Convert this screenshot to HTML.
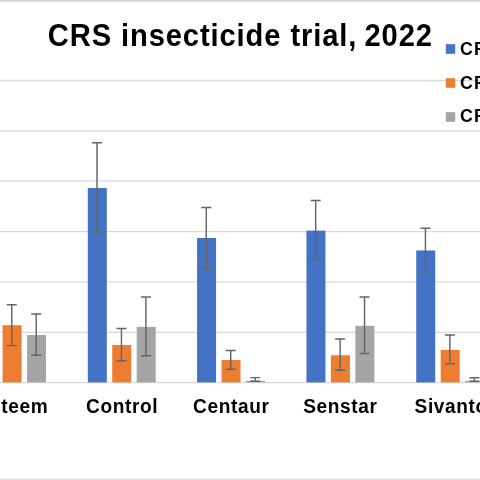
<!DOCTYPE html>
<html><head><meta charset="utf-8"><style>
html,body{margin:0;padding:0;background:#fff;width:480px;height:480px;overflow:hidden}
svg{display:block;filter:blur(0.35px)}
text{font-family:"Liberation Sans",sans-serif;font-weight:bold;fill:#000}
.title{font-size:31px;letter-spacing:0.95px}
.lab{font-size:20.3px;letter-spacing:0.68px}
.leg{font-size:18.8px;letter-spacing:1.1px}
</style></head><body>
<svg width="480" height="480" viewBox="0 0 480 480">
<rect x="0" y="0" width="480" height="480" fill="#fff"/>
<line x1="0" x2="480" y1="332.33" y2="332.33" stroke="#d9d9d9" stroke-width="1.3"/>
<line x1="0" x2="480" y1="281.96" y2="281.96" stroke="#d9d9d9" stroke-width="1.3"/>
<line x1="0" x2="480" y1="231.59" y2="231.59" stroke="#d9d9d9" stroke-width="1.3"/>
<line x1="0" x2="480" y1="181.22" y2="181.22" stroke="#d9d9d9" stroke-width="1.3"/>
<line x1="0" x2="480" y1="130.85" y2="130.85" stroke="#d9d9d9" stroke-width="1.3"/>
<line x1="0" x2="480" y1="80.48" y2="80.48" stroke="#d9d9d9" stroke-width="1.3"/>
<line x1="0" x2="480" y1="382.70" y2="382.70" stroke="#d9d9d9" stroke-width="1.3"/>
<rect x="-21.88" y="250.00" width="19.0" height="132.40" fill="#4472c4"/>
<rect x="2.57" y="325.20" width="19.0" height="57.20" fill="#ed7d31"/>
<rect x="27.02" y="335.00" width="19.0" height="47.40" fill="#a5a5a5"/>
<path d="M-12.68 200.00V300.00M-17.68 200.00H-7.68M-17.68 300.00H-7.68" stroke="#656565" stroke-width="1.45" fill="none"/>
<path d="M11.77 304.70V345.60M6.77 304.70H16.77M6.77 345.60H16.77" stroke="#656565" stroke-width="1.45" fill="none"/>
<path d="M36.22 314.00V355.30M31.22 314.00H41.22M31.22 355.30H41.22" stroke="#656565" stroke-width="1.45" fill="none"/>
<text transform="translate(12.47 412.6) scale(0.94 1)" text-anchor="middle" class="lab">Esteem</text>
<rect x="87.80" y="188.00" width="19.0" height="194.40" fill="#4472c4"/>
<rect x="112.25" y="345.00" width="19.0" height="37.40" fill="#ed7d31"/>
<rect x="136.70" y="326.90" width="19.0" height="55.50" fill="#a5a5a5"/>
<path d="M97.00 142.80V232.60M92.00 142.80H102.00M92.00 232.60H102.00" stroke="#656565" stroke-width="1.45" fill="none"/>
<path d="M121.45 328.40V360.80M116.45 328.40H126.45M116.45 360.80H126.45" stroke="#656565" stroke-width="1.45" fill="none"/>
<path d="M145.90 296.90V355.80M140.90 296.90H150.90M140.90 355.80H150.90" stroke="#656565" stroke-width="1.45" fill="none"/>
<text transform="translate(122.15 412.6) scale(0.94 1)" text-anchor="middle" class="lab">Control</text>
<rect x="197.08" y="238.00" width="19.0" height="144.40" fill="#4472c4"/>
<rect x="221.53" y="360.00" width="19.0" height="22.40" fill="#ed7d31"/>
<rect x="245.98" y="380.80" width="19.0" height="1.60" fill="#a5a5a5"/>
<path d="M206.28 207.50V268.80M201.28 207.50H211.28M201.28 268.80H211.28" stroke="#656565" stroke-width="1.45" fill="none"/>
<path d="M230.73 350.50V369.20M225.73 350.50H235.73M225.73 369.20H235.73" stroke="#656565" stroke-width="1.45" fill="none"/>
<path d="M255.18 377.60V381.20M250.18 377.60H260.18M250.18 381.20H260.18" stroke="#656565" stroke-width="1.45" fill="none"/>
<text transform="translate(231.23 412.6) scale(0.94 1)" text-anchor="middle" class="lab">Centaur</text>
<rect x="306.46" y="230.60" width="19.0" height="151.80" fill="#4472c4"/>
<rect x="330.91" y="355.20" width="19.0" height="27.20" fill="#ed7d31"/>
<rect x="355.36" y="325.80" width="19.0" height="56.60" fill="#a5a5a5"/>
<path d="M315.66 200.40V259.40M310.66 200.40H320.66M310.66 259.40H320.66" stroke="#656565" stroke-width="1.45" fill="none"/>
<path d="M340.11 339.00V370.20M335.11 339.00H345.11M335.11 370.20H345.11" stroke="#656565" stroke-width="1.45" fill="none"/>
<path d="M364.56 296.90V353.50M359.56 296.90H369.56M359.56 353.50H369.56" stroke="#656565" stroke-width="1.45" fill="none"/>
<text transform="translate(340.41 412.6) scale(0.94 1)" text-anchor="middle" class="lab">Senstar</text>
<rect x="416.24" y="250.50" width="19.0" height="131.90" fill="#4472c4"/>
<rect x="440.69" y="350.00" width="19.0" height="32.40" fill="#ed7d31"/>
<rect x="465.14" y="380.90" width="19.0" height="1.50" fill="#a5a5a5"/>
<path d="M425.44 228.30V271.70M420.44 228.30H430.44M420.44 271.70H430.44" stroke="#656565" stroke-width="1.45" fill="none"/>
<path d="M449.89 335.00V363.80M444.89 335.00H454.89M444.89 363.80H454.89" stroke="#656565" stroke-width="1.45" fill="none"/>
<path d="M474.34 377.80V381.20M469.34 377.80H479.34M469.34 381.20H479.34" stroke="#656565" stroke-width="1.45" fill="none"/>
<text transform="translate(451.19 412.6) scale(0.94 1)" text-anchor="middle" class="lab">Sivanto</text>
<text transform="translate(47.8 46.4) scale(0.94 1)" class="title">CRS insecticide trial,<tspan dx="-1.9"> 2022</tspan></text>
<rect x="445.8" y="44.20" width="9.4" height="9.6" fill="#4472c4"/>
<text transform="translate(459.95 54.60) scale(0.95 1)" class="leg">CRS</text>
<rect x="445.8" y="78.20" width="9.4" height="9.6" fill="#ed7d31"/>
<text transform="translate(459.95 88.50) scale(0.95 1)" class="leg">CRS</text>
<rect x="445.8" y="112.20" width="9.4" height="9.6" fill="#a5a5a5"/>
<text transform="translate(459.95 122.40) scale(0.95 1)" class="leg">CRS</text>
<rect x="0" y="0" width="480" height="1" fill="#d0d0d0"/>
<rect x="0" y="1" width="480" height="1" fill="#e6e6e6"/>
<rect x="0" y="2" width="480" height="1" fill="#f6f6f6"/>
<rect x="0" y="478" width="480" height="1" fill="#f4f4f4"/>
<rect x="0" y="479" width="480" height="1" fill="#e4e4e4"/>
</svg>
</body></html>
